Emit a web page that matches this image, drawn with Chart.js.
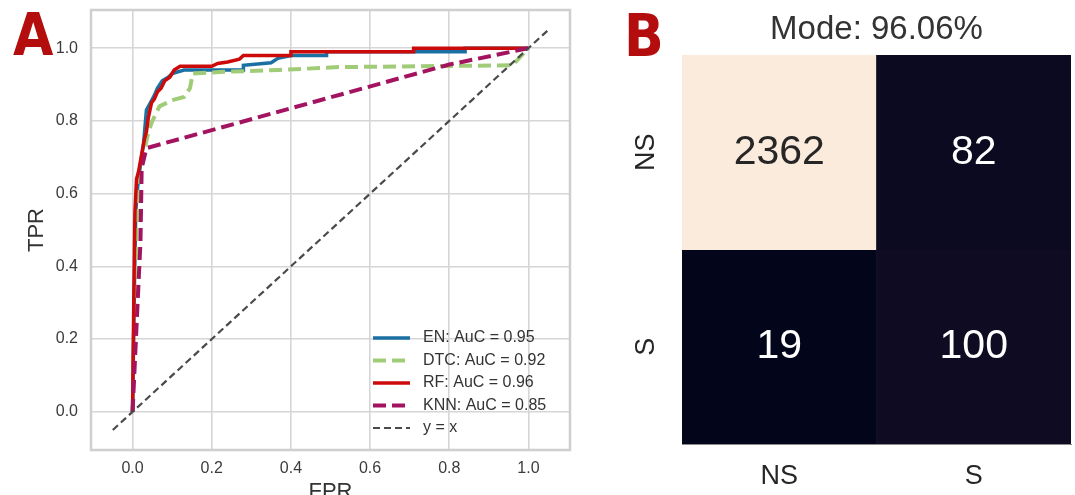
<!DOCTYPE html>
<html>
<head>
<meta charset="utf-8">
<script src="https://cdn.jsdelivr.net/npm/chart.js@4.4.1/dist/chart.umd.min.js"></script>
<style>
  body { margin: 0; background: #fff; }
  #wrap { position: relative; width: 1075px; height: 495px; overflow: hidden; }
  .pane { position: absolute; top: 0; }
  .tag { position: absolute; font-family: "Liberation Sans Narrow", "DejaVu Sans Condensed", sans-serif;
         font-weight: bold; font-size: 58px; line-height: 60px; color: #b40d0d; }
</style>
</head>
<body>
<div id="wrap">
  <canvas id="roc" class="pane" style="left:0" width="600" height="495"></canvas>
  <canvas id="cm" class="pane" style="left:600px" width="475" height="495"></canvas>
  <div class="tag" style="left:13px;top:5px">A</div>
  <div class="tag" style="left:624px;top:6px">B</div>
</div>
<script>
Chart.defaults.font.family = "'Liberation Sans', Arial, sans-serif";
Chart.defaults.color = '#3b3b3b';
Chart.defaults.animation = false;

// --- panel A: ROC curves ---
var enFpr  = [0, 0.004, 0.008, 0.013, 0.02, 0.028, 0.035, 0.045, 0.055, 0.063, 0.075, 0.09, 0.1, 0.13, 0.28, 0.28, 0.35, 0.367, 0.40, 0.49, 0.49, 0.84, 0.84, 1.0];
var enTpr  = [0, 0.3, 0.55, 0.62, 0.68, 0.74, 0.83, 0.85, 0.87, 0.89, 0.91, 0.92, 0.93, 0.94, 0.94, 0.953, 0.96, 0.972, 0.98, 0.98, 0.99, 0.99, 1.0, 1.0];
var dtcFpr = [0, 0.005, 0.01, 0.015, 0.02, 0.03, 0.04, 0.05, 0.068, 0.1, 0.13, 0.145, 0.152, 0.23, 0.37, 0.52, 0.96, 1.0];
var dtcTpr = [0, 0.3, 0.5, 0.6, 0.66, 0.72, 0.77, 0.80, 0.84, 0.857, 0.866, 0.89, 0.93, 0.935, 0.94, 0.948, 0.953, 1.0];
var rfFpr  = [0, 0.003, 0.006, 0.01, 0.015, 0.02, 0.025, 0.03, 0.035, 0.04, 0.048, 0.055, 0.063, 0.072, 0.081, 0.094, 0.105, 0.12, 0.2, 0.215, 0.24, 0.27, 0.28, 0.4, 0.4, 0.71, 0.71, 1.0];
var rfTpr  = [0, 0.3, 0.55, 0.64, 0.66, 0.69, 0.72, 0.75, 0.77, 0.81, 0.85, 0.86, 0.88, 0.89, 0.91, 0.92, 0.94, 0.95, 0.95, 0.958, 0.962, 0.97, 0.98, 0.98, 0.99, 0.99, 1.0, 1.0];
var knnFpr = [0, 0.02, 0.023, 0.035, 0.8, 1.0];
var knnTpr = [0, 0.47, 0.67, 0.725, 0.955, 1.0];
var diagXY = [-0.05, 1.05];
var rocLabels = ['EN: AuC = 0.95', 'DTC: AuC = 0.92', 'RF: AuC = 0.96', 'KNN: AuC = 0.85', 'y = x'];
var rocTicks = [0, 0.2, 0.4, 0.6, 0.8, 1.0];

// --- panel B: confusion matrix ---
var cmClasses = ['NS', 'S'];
var cmCounts = [[2362, 82], [19, 100]];
var cmTitle = 'Mode: 96.06%';

function pts(xs, ys) {
  return xs.map(function (x, i) { return { x: x, y: ys[i] }; });
}

var rocSets = [
  { label: rocLabels[0], data: pts(enFpr, enTpr), borderColor: '#1a6fa3', borderWidth: 3.5, order: 4 },
  { label: rocLabels[1], data: pts(dtcFpr, dtcTpr), borderColor: '#a0cc78', borderWidth: 4, borderDash: [13, 6], order: 3 },
  { label: rocLabels[2], data: pts(rfFpr, rfTpr), borderColor: '#cc0a0a', borderWidth: 3.5, order: 2 },
  { label: rocLabels[3], data: pts(knnFpr, knnTpr), borderColor: '#a3135f', borderWidth: 4, borderDash: [13, 6], order: 1 },
  { label: rocLabels[4], data: pts(diagXY, diagXY), borderColor: '#4a4a4a', borderWidth: 2.2, borderDash: [7, 4], order: 0 }
];
rocSets.forEach(function (d) {
  d.showLine = true; d.pointRadius = 0; d.fill = false; d.tension = 0;
});

// grey frame round the plot area
var frame = {
  id: 'frame',
  beforeDatasetsDraw: function (chart) {
    var a = chart.chartArea, ctx = chart.ctx;
    ctx.save();
    ctx.strokeStyle = '#cfcfcf';
    ctx.lineWidth = 2.5;
    ctx.strokeRect(a.left, a.top, a.right - a.left, a.bottom - a.top);
    ctx.restore();
  }
};

// legend inside, lower right, no box
var rocLegend = {
  id: 'rocLegend',
  afterDraw: function (chart) {
    var a = chart.chartArea, ctx = chart.ctx;
    var sets = chart.data.datasets;
    ctx.save();
    ctx.font = "16px 'Liberation Sans', Arial, sans-serif";
    ctx.textBaseline = 'middle';
    sets.forEach(function (d, i) {
      var y = a.bottom - 22 - (sets.length - 1 - i) * 22.5;
      var x = a.right - 197;
      ctx.strokeStyle = d.borderColor;
      ctx.lineWidth = d.borderWidth;
      ctx.setLineDash(d.borderDash || []);
      ctx.beginPath(); ctx.moveTo(x, y); ctx.lineTo(x + 37, y); ctx.stroke();
      ctx.fillStyle = '#333';
      ctx.fillText(d.label, x + 50, y);
    });
    ctx.restore();
  }
};

function fixedTicks(scale) {
  scale.ticks = rocTicks.map(function (v) { return { value: v }; });
}

new Chart(document.getElementById('roc'), {
  type: 'scatter',
  data: { datasets: rocSets },
  plugins: [frame, rocLegend],
  options: {
    responsive: false,
    layout: { padding: { top: 10, right: 30, left: 0, bottom: 0 } },
    plugins: { legend: { display: false }, tooltip: { enabled: false } },
    scales: {
      x: {
        type: 'linear', min: -0.105, max: 1.105,
        afterBuildTicks: fixedTicks,
        afterFit: function (s) { s.height = 45; s.paddingLeft = 0; s.paddingRight = 0; },
        grid: { color: '#d6d6d6', lineWidth: 1.6, drawTicks: false },
        border: { display: false },
        ticks: { font: { size: 16 }, padding: 9, callback: function (v) { return v.toFixed(1); } },
        title: { display: true, text: 'FPR', font: { size: 22 }, color: '#333', padding: { top: 0, bottom: -10 } }
      },
      y: {
        type: 'linear', min: -0.105, max: 1.105,
        afterBuildTicks: fixedTicks,
        afterFit: function (s) { s.width = 91; s.paddingTop = 0; s.paddingBottom = 0; },
        grid: { color: '#d6d6d6', lineWidth: 1.6, drawTicks: false },
        border: { display: false },
        ticks: { font: { size: 16 }, padding: 13, callback: function (v) { return v.toFixed(1); } },
        title: { display: true, text: 'TPR', font: { size: 22 }, color: '#333', padding: { top: 24, bottom: 0 } }
      }
    }
  }
});

// rocket-like colour ramp for the heatmap
var rampPos = [0, 0.035, 0.25, 0.5, 0.75, 1];
var rampCol = [[3, 5, 26], [14, 11, 34], [84, 30, 78], [203, 27, 79], [243, 118, 81], [250, 235, 221]];
var cmMin = Math.min.apply(null, cmCounts.flat());
var cmMax = Math.max.apply(null, cmCounts.flat());
function cellColor(v) {
  var t = (v - cmMin) / (cmMax - cmMin);
  for (var i = 1; i < rampPos.length; i++) {
    if (t <= rampPos[i]) {
      var f = (t - rampPos[i - 1]) / (rampPos[i] - rampPos[i - 1]);
      var c = rampCol[i - 1].map(function (c0, k) { return Math.round(c0 + f * (rampCol[i][k] - c0)); });
      return 'rgb(' + c.join(',') + ')';
    }
  }
  return 'rgb(' + rampCol[rampCol.length - 1].join(',') + ')';
}

var n = cmClasses.length;
var cmSets = cmCounts.map(function (row, r) {
  return {
    label: cmClasses[r],
    data: row.map(function () { return [n - r - 1, n - r]; }),
    counts: row,
    backgroundColor: row.map(cellColor),
    borderWidth: 0, barPercentage: 1, categoryPercentage: 1, grouped: false
  };
});

// count written in each cell
var cmText = {
  id: 'cmText',
  afterDatasetsDraw: function (chart) {
    var ctx = chart.ctx;
    ctx.save();
    ctx.font = "41px 'Liberation Sans', Arial, sans-serif";
    ctx.textAlign = 'center';
    ctx.textBaseline = 'middle';
    chart.data.datasets.forEach(function (d, di) {
      chart.getDatasetMeta(di).data.forEach(function (bar, j) {
        var c = bar.getCenterPoint();
        var v = d.counts[j];
        ctx.fillStyle = (v - cmMin) / (cmMax - cmMin) > 0.5 ? '#262626' : '#ffffff';
        ctx.fillText(String(v), c.x, c.y);
      });
    });
    ctx.restore();
  }
};

new Chart(document.getElementById('cm'), {
  type: 'bar',
  data: { labels: cmClasses, datasets: cmSets },
  plugins: [cmText],
  options: {
    responsive: false,
    layout: { padding: { top: 0, right: 4, left: 0, bottom: 0 } },
    plugins: {
      legend: { display: false },
      tooltip: { enabled: false },
      title: { display: true, text: cmTitle, fullSize: false, color: '#333',
               font: { size: 33, weight: 'normal' }, padding: { top: 10, bottom: 5.5 } }
    },
    scales: {
      x: {
        afterFit: function (s) { s.height = 51; s.paddingLeft = 0; s.paddingRight = 0; },
        grid: { display: false, drawTicks: false },
        border: { display: true, color: '#8a8a8a', width: 1 },
        ticks: { font: { size: 27 }, color: '#262626', padding: 16 }
      },
      y: {
        min: 0, max: n,
        afterBuildTicks: function (s) {
          s.ticks = cmClasses.map(function (c, i) { return { value: n - i - 0.5 }; });
        },
        afterFit: function (s) { s.width = 82; s.paddingTop = 0; s.paddingBottom = 0; },
        grid: { display: false, drawTicks: false },
        border: { display: true, color: '#8a8a8a', width: 1 },
        ticks: {
          font: { size: 27 }, color: '#262626', padding: 17, minRotation: 90, maxRotation: 90, crossAlign: 'center',
          callback: function (v) { return cmClasses[n - 1 - Math.floor(v)]; }
        }
      }
    }
  }
});
</script>
</body>
</html>
